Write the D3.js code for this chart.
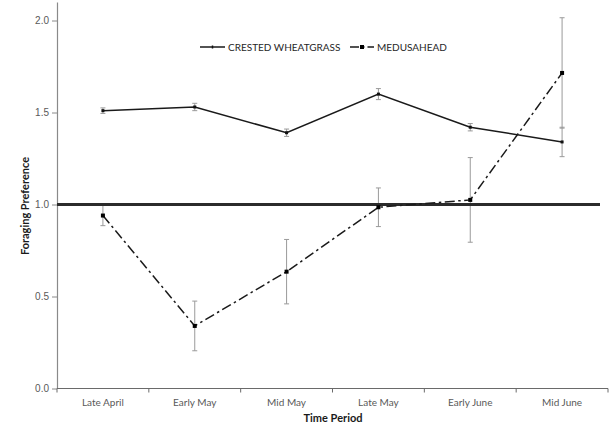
<!DOCTYPE html>
<html>
<head>
<meta charset="utf-8">
<script src="https://cdn.jsdelivr.net/npm/d3@7"></script>
<style>
  html, body { margin: 0; padding: 0; background: #fff; }
  svg { display: block; font-family: Lato, "Open Sans", sans-serif; }
</style>
</head>
<body>
<svg id="chart" width="610" height="425"></svg>
<script>
// Time periods on the x axis
const periods = ["Late April", "Early May", "Mid May", "Late May", "Early June", "Mid June"];

// Mean foraging preference and error per period
const wheatgrassMean = [1.51, 1.53, 1.39, 1.60, 1.42, 1.34];
const wheatgrassErr  = [0.015, 0.02, 0.02, 0.03, 0.02, 0.08];
const medusaheadMean = [0.94, 0.34, 0.635, 0.985, 1.025, 1.715];
const medusaheadErr  = [0.055, 0.135, 0.175, 0.105, 0.23, 0.30];

const yTicks = [0, 0.5, 1.0, 1.5, 2.0];
const referenceLevel = 1.0;

const seriesNames = ["CRESTED WHEATGRASS", "MEDUSAHEAD"];

const svg = d3.select("#chart");
const margin = { left: 57, right: 2, top: 2, bottom: 37 };
const W = 610, H = 425;

const x = d3.scaleBand().domain(periods)
  .range([margin.left, W - margin.right]).paddingInner(0).paddingOuter(0);
const y = d3.scaleLinear().domain([0, 2.1]).range([388.5, 2.1]);
const cx = d => x(d) + x.bandwidth() / 2;

// Y axis
const yAxis = svg.append("g").attr("transform", `translate(${margin.left},0)`)
  .call(d3.axisLeft(y).tickValues(yTicks).tickFormat(d3.format(".1f")).tickSize(5).tickSizeOuter(0));
yAxis.select(".domain").attr("stroke", "#8a8a8a").attr("stroke-width", 1.2);
yAxis.selectAll(".tick line").attr("stroke", "#8a8a8a");
yAxis.selectAll(".tick text").attr("fill", "#595959").attr("font-size", 10).attr("x", -8);

// X axis with ticks between categories
const xAxisG = svg.append("g").attr("transform", `translate(0,${y(0)})`);
xAxisG.append("line").attr("x1", margin.left).attr("x2", W - margin.right)
  .attr("stroke", "#6a6a6a").attr("stroke-width", 1.2);
const boundaries = periods.map(p => x(p)).concat([x(periods[periods.length - 1]) + x.bandwidth()]);
xAxisG.selectAll("line.tk").data(boundaries).join("line").attr("class", "tk")
  .attr("x1", d => d).attr("x2", d => d).attr("y1", 0).attr("y2", 4)
  .attr("stroke", "#6a6a6a");
xAxisG.selectAll("text").data(periods).join("text")
  .attr("x", d => cx(d)).attr("y", 17).attr("text-anchor", "middle")
  .attr("fill", "#595959").attr("font-size", 10).text(d => d);

// Axis titles
svg.append("text").attr("x", 333).attr("y", 422).attr("text-anchor", "middle")
  .attr("font-weight", "bold").attr("font-size", 11).attr("fill", "#1a1a1a").text("Time Period");
svg.append("text").attr("transform", "translate(29,206) rotate(-90)")
  .attr("text-anchor", "middle").attr("font-weight", "bold").attr("font-size", 11)
  .attr("fill", "#1a1a1a").text("Foraging Preference");

// Error bars (drawn beneath the series lines)
function errorBars(means, errs) {
  const g = svg.append("g").attr("stroke", "#9a9a9a").attr("stroke-width", 1);
  periods.forEach((p, i) => {
    const lo = y(means[i] - errs[i]), hi = y(means[i] + errs[i]), px = cx(p);
    g.append("line").attr("x1", px).attr("x2", px).attr("y1", lo).attr("y2", hi);
    g.append("line").attr("x1", px - 2.5).attr("x2", px + 2.5).attr("y1", lo).attr("y2", lo);
    g.append("line").attr("x1", px - 2.5).attr("x2", px + 2.5).attr("y1", hi).attr("y2", hi);
  });
}
errorBars(medusaheadMean, medusaheadErr);
errorBars(wheatgrassMean, wheatgrassErr);

// Reference line at preference = 1
svg.append("line").attr("x1", margin.left).attr("x2", 600)
  .attr("y1", y(referenceLevel)).attr("y2", y(referenceLevel))
  .attr("stroke", "#2b2b2b").attr("stroke-width", 2.8);

const line = d3.line().x((d, i) => cx(periods[i])).y(d => y(d));

// Crested wheatgrass: solid line
svg.append("path").datum(wheatgrassMean).attr("d", line)
  .attr("fill", "none").attr("stroke", "#1a1a1a").attr("stroke-width", 1.5);
svg.selectAll("rect.cw").data(wheatgrassMean).join("rect").attr("class", "cw")
  .attr("x", (d, i) => cx(periods[i]) - 1.5).attr("y", d => y(d) - 1.5)
  .attr("width", 3).attr("height", 3).attr("fill", "#111");

// Medusahead: dash-dot line
svg.append("path").datum(medusaheadMean).attr("d", line)
  .attr("fill", "none").attr("stroke", "#1a1a1a").attr("stroke-width", 1.5)
  .attr("stroke-dasharray", "10,3.5,2.5,3.5");
svg.selectAll("rect.mh").data(medusaheadMean).join("rect").attr("class", "mh")
  .attr("x", (d, i) => cx(periods[i]) - 2).attr("y", d => y(d) - 2)
  .attr("width", 4).attr("height", 4).attr("fill", "#000");

// Legend
const legend = svg.append("g").attr("font-size", 10).attr("fill", "#262626");
const legendY = 47;
legend.append("line").attr("x1", 200).attr("x2", 225).attr("y1", legendY).attr("y2", legendY)
  .attr("stroke", "#1a1a1a").attr("stroke-width", 1.5);
legend.append("line").attr("x1", 212.5).attr("x2", 212.5).attr("y1", legendY - 1.5).attr("y2", legendY + 1.5)
  .attr("stroke", "#111").attr("stroke-width", 1.5);
legend.append("text").attr("x", 228).attr("y", legendY + 3.5).text(seriesNames[0]);
legend.append("line").attr("x1", 350).attr("x2", 374).attr("y1", legendY).attr("y2", legendY)
  .attr("stroke", "#1a1a1a").attr("stroke-width", 1.5).attr("stroke-dasharray", "9,3,2.5,3");
legend.append("rect").attr("x", 360).attr("y", legendY - 2).attr("width", 4).attr("height", 4).attr("fill", "#000");
legend.append("text").attr("x", 377).attr("y", legendY + 3.5).text(seriesNames[1]);
</script>
</body>
</html>
